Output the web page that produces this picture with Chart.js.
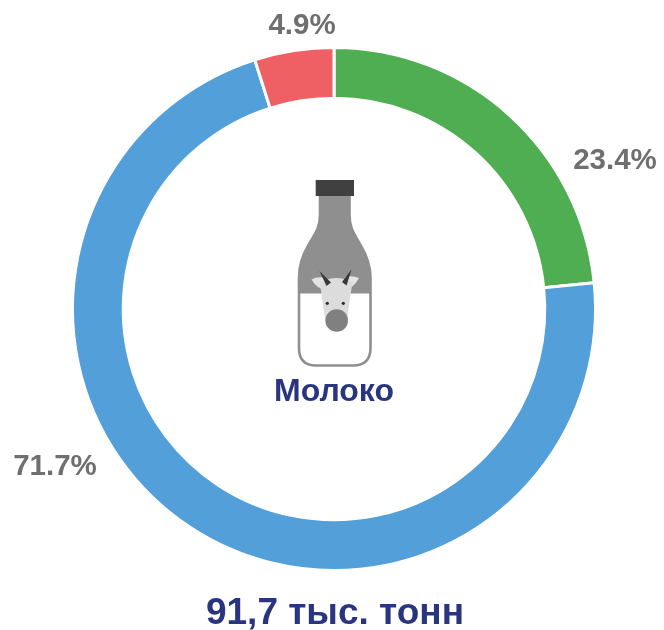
<!DOCTYPE html>
<html>
<head>
<meta charset="utf-8">
<style>
  html, body { margin: 0; padding: 0; background: #fff; }
  #wrap { position: relative; width: 664px; height: 630px; overflow: hidden; }
  #bottle { position: absolute; left: 280px; top: 170px; filter: blur(0.4px); }
</style>
<script src="https://cdn.jsdelivr.net/npm/chart.js@4"></script>
</head>
<body>
<div id="wrap">
  <canvas id="chart" width="664" height="630"></canvas>
  <!-- иконка бутылки -->
  <svg id="bottle" width="110" height="210" viewBox="0 0 110 210">
    <defs>
      <clipPath id="milkTop"><rect x="0" y="0" width="110" height="123.5"></rect></clipPath>
    </defs>
    <path d="M40 26 V45 C40 60 33 66 28 76 C22 86 19 95 19 108 V178 Q19 195.5 36 195.5 H73 Q90.5 195.5 90.5 178 V108 C90.5 95 87 86 81 76 C76 66 69.5 60 69.5 45 V26 Z" fill="#fff" stroke="#8f8f8f" stroke-width="2.6"></path>
    <path d="M40 26 V45 C40 60 33 66 28 76 C22 86 19 95 19 108 V178 Q19 195.5 36 195.5 H73 Q90.5 195.5 90.5 178 V108 C90.5 95 87 86 81 76 C76 66 69.5 60 69.5 45 V26 Z" fill="#8f8f8f" clip-path="url(#milkTop)"></path>
    <rect x="35.7" y="10" width="38.3" height="16" fill="#404040"></rect>
    <path d="M31.500 109.500 Q38 106 45 108 L47 120 Q37 119.500 31.500 109.500 Z" fill="#e4e4e4"></path>
    <path d="M79 108 Q72 105 65 107 L63 120 Q73 119.500 79 108 Z" fill="#e4e4e4"></path>
    <path d="M40 113 Q48 108 56 108 Q64 108 72.500 112 L70 128 L67 150 H45 L42 128 Z" fill="#dcdcdc"></path>
    <path d="M39.500 101 L51 112.500 L46.500 116 Z" fill="#383838"></path>
    <path d="M71.500 99.500 L62 112 L66.500 115.500 Z" fill="#383838"></path>
    <circle cx="56.700" cy="150.500" r="11.300" fill="#808080"></circle>
    <circle cx="47.300" cy="133.300" r="1.600" fill="#2e2e2e"></circle>
    <circle cx="63.300" cy="133.300" r="1.600" fill="#2e2e2e"></circle>
  </svg>
</div>
<script>
// Молоко: структура
const categories = ['Зелёный', 'Синий', 'Красный'];
const shares = [23.4, 71.7, 4.9];
const shareLabels = ['23.4%', '71.7%', '4.9%'];
const sliceColors = ['#4FAE52', '#529FD9', '#EE6063'];
const centerTitle = 'Молоко';
const totalTitle = '91,7 тыс. тонн';

// подписи стоят не по радиусу, поэтому смещение от центра задаём вручную
const labelOffsets = [[281, -148], [-279, 158], [-32, -283]];

const textPlugin = {
    id: 'textPlugin',
    afterDraw(chart) {
        const ctx = chart.ctx;
        const arcs = chart.getDatasetMeta(0).data;
        const cx = arcs[0].x;
        const cy = arcs[0].y;
        ctx.save();
        ctx.textAlign = 'center';
        ctx.textBaseline = 'middle';

        ctx.fillStyle = '#6f6f6f';
        ctx.font = 'bold 29.5px "Liberation Sans"';
        shareLabels.forEach((t, i) => {
            ctx.fillText(t, cx + labelOffsets[i][0], cy + labelOffsets[i][1]);
        });

        ctx.fillStyle = '#29357f';
        ctx.font = 'bold 32px "Liberation Sans"';
        ctx.fillText(centerTitle, cx, cy + 83);
        ctx.font = 'bold 37px "Liberation Sans"';
        ctx.fillText(totalTitle, cx + 1, cy + 305);
        ctx.restore();
    }
};

new Chart(document.getElementById('chart'), {
    type: 'doughnut',
    data: {
        labels: categories,
        datasets: [{
            data: shares,
            backgroundColor: sliceColors,
            borderColor: '#fff',
            borderWidth: 3,
            hoverOffset: 0
        }]
    },
    plugins: [textPlugin],
    options: {
        responsive: false,
        animation: false,
        cutout: '80.6%',
        layout: { padding: { left: 71, right: 67, top: 46, bottom: 58 } },
        plugins: {
            legend: { display: false },
            tooltip: { enabled: false }
        }
    }
});
</script>
</body>
</html>
